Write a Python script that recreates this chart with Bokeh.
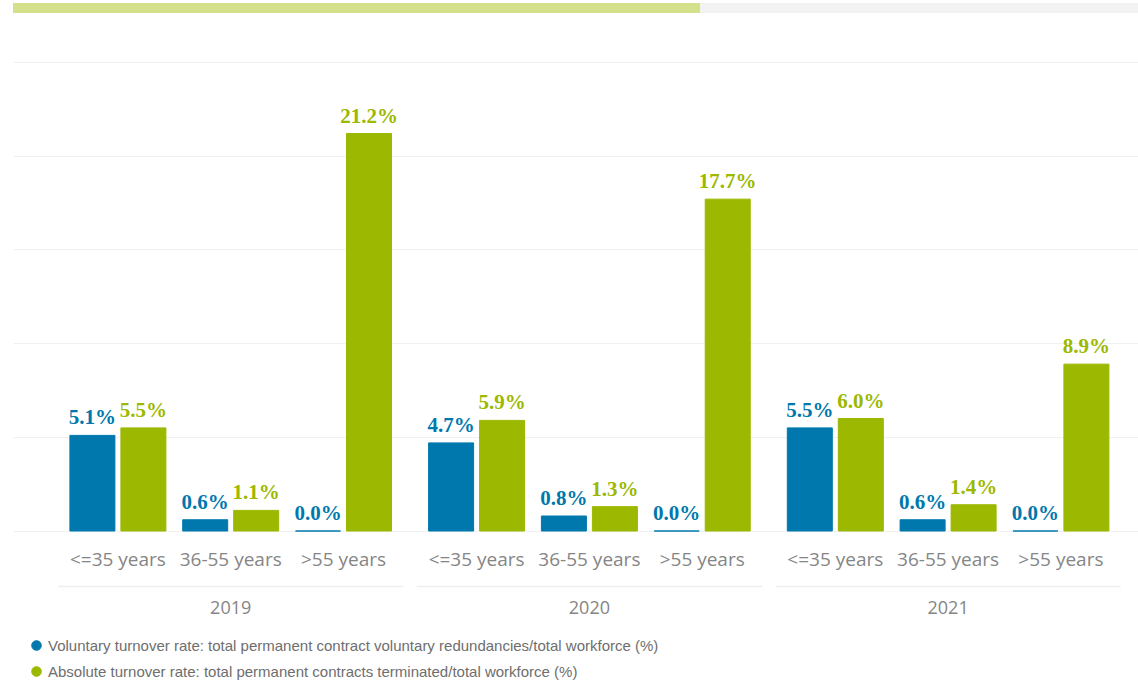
from bokeh.plotting import figure
from bokeh.models import (ColumnDataSource, Range1d, Grid, FixedTicker, Legend,
                          LegendItem, Div)
from bokeh.layouts import column
from bokeh.transform import dodge
from bokeh.core.properties import value
from bokeh.embed import file_html
from bokeh.resources import INLINE

# ---------------- data ----------------
years = ["2019", "2020", "2021"]
age_groups = ["<=35 years", "36-55 years", ">55 years"]
# one value per (year, age group), in year order then age-group order
voluntary_rate = [5.1, 0.6, 0.0, 4.7, 0.8, 0.0, 5.5, 0.6, 0.0]
absolute_rate = [5.5, 1.1, 21.2, 5.9, 1.3, 17.7, 6.0, 1.4, 8.9]
series_names = [
    "Voluntary turnover rate: total permanent contract voluntary redundancies/total workforce (%)",
    "Absolute turnover rate: total permanent contracts terminated/total workforce (%)",
]
y_ticks = [0, 5, 10, 15, 20, 25]

# ---------------- style / layout ----------------
BLUE = "#0078ad"
GREEN = "#9cb800"
AXIS_GREY = "#858585"
LEGEND_GREY = "#6e6e6e"
GRID = "#f0f0f0"

TOP_H = 13
FIG_W, FIG_H = 1138, 678
FRAME_LEFT = 13
FRAME_W = FIG_W - FRAME_LEFT
UNIT_PX = 112.8          # px per category slot
GROUP_PAD = 0.18         # gap between years, in slots
CONTENT_LEFT = 48        # px from frame left to first slot edge
PX_PER_PCT = 18.75
BASE_PX = 517.5          # px from frame top to the zero line
BAR_W = 45 / UNIT_PX
BAR_OFF = 25.5 / UNIT_PX
SEP_EXT = 0.53
SEP_PX = 55.5            # separator line below the zero line, px

n_sub = len(age_groups)
centers, sub_labels, year_of = [], [], []
for g, yr in enumerate(years):
    for s, ag in enumerate(age_groups):
        centers.append(g * (n_sub + GROUP_PAD) + s + 0.5)
        sub_labels.append(ag)
        year_of.append(yr)

src = ColumnDataSource(dict(
    x=centers, sub=sub_labels, year=year_of,
    vol=voluntary_rate, ab=absolute_rate,
    vol_lbl=[f"{v:.1f}%" for v in voluntary_rate],
    ab_lbl=[f"{v:.1f}%" for v in absolute_rate],
    zero=[0] * len(centers),
    hidden=[float("nan")] * len(centers),
))

year_x = [sum(centers[g * n_sub:(g + 1) * n_sub]) / n_sub for g in range(len(years))]
sep_y = -SEP_PX / PX_PER_PCT
year_src = ColumnDataSource(dict(
    x=year_x, label=years,
    x0=[centers[g * n_sub] - SEP_EXT for g in range(len(years))],
    x1=[centers[g * n_sub + n_sub - 1] + SEP_EXT for g in range(len(years))],
    y=[0] * len(years), ys=[sep_y] * len(years),
))

x_range = Range1d(-CONTENT_LEFT / UNIT_PX, (FRAME_W - CONTENT_LEFT) / UNIT_PX)
y_range = Range1d(-(FIG_H - BASE_PX) / PX_PER_PCT, BASE_PX / PX_PER_PCT)

p = figure(width=FIG_W, height=FIG_H, x_range=x_range, y_range=y_range,
           output_backend="svg", toolbar_location=None,
           x_axis_location=None, y_axis_location=None,
           min_border_left=FRAME_LEFT, min_border_right=0,
           min_border_top=0, min_border_bottom=0)
p.outline_line_color = None
p.background_fill_color = "white"
p.border_fill_color = "white"
p.xgrid.visible = False
p.ygrid.visible = False
p.add_layout(Grid(dimension=1, ticker=FixedTicker(ticks=y_ticks),
                  grid_line_color=GRID, grid_line_width=1.2))

# bars
p.vbar(x=dodge("x", -BAR_OFF), top="vol", bottom=0, width=BAR_W, source=src,
       fill_color=BLUE, line_color=BLUE, line_width=1)
p.vbar(x=dodge("x", BAR_OFF), top="ab", bottom=0, width=BAR_W, source=src,
       fill_color=GREEN, line_color=GREEN, line_width=1)

# value labels
lbl_kw = dict(text_font=value("Liberation Serif"), text_font_style="bold",
              text_font_size="21px", text_align="center",
              text_baseline="alphabetic", y_offset=-18, source=src)
p.text(x=dodge("x", -BAR_OFF), y="vol", text="vol_lbl", text_color=BLUE, **lbl_kw)
p.text(x=dodge("x", BAR_OFF), y="ab", text="ab_lbl", text_color=GREEN, **lbl_kw)

# category labels (age groups)
p.text(x="x", y="zero", text="sub", source=src, y_offset=27.5,
       text_font=value("Open Sans"), text_font_size="19px",
       text_color=AXIS_GREY, text_align="center", text_baseline="middle")
# year separators and year labels
p.segment(x0="x0", x1="x1", y0="ys", y1="ys", source=year_src,
          line_color="#eeeeee", line_width=1.5)
p.text(x="x", y="y", text="label", source=year_src, y_offset=76.5,
       text_font=value("Open Sans"), text_font_size="18px",
       text_color=AXIS_GREY, text_align="center", text_baseline="middle")

# legend (markers are never drawn in the plot area: y is NaN)
r_vol = p.scatter(x="x", y="hidden", source=src, marker="circle",
                  fill_color=BLUE, line_color=BLUE)
r_ab = p.scatter(x="x", y="hidden", source=src, marker="circle",
                 fill_color=GREEN, line_color=GREEN)
legend = Legend(items=[LegendItem(label=series_names[0], renderers=[r_vol]),
                       LegendItem(label=series_names[1], renderers=[r_ab])],
                location=(11, 7), glyph_width=24, glyph_height=26,
                label_standoff=0, spacing=0, padding=0, margin=0,
                border_line_color=None, background_fill_alpha=0,
                label_text_font="Liberation Sans",
                label_text_font_size="15px", label_text_color=LEGEND_GREY)
p.add_layout(legend, "center")

top_bar = Div(text=(
    '<div style="display:flex;height:10px;width:1125px;margin-left:13px;margin-top:3px">'
    '<div style="width:687px;background:#d5e08d"></div>'
    '<div style="flex:1;background:#f2f2f2"></div></div>'),
    width=FIG_W, height=TOP_H, margin=0)

layout = column(top_bar, p, spacing=0)
open("out.html", "w").write(file_html(layout, INLINE))
